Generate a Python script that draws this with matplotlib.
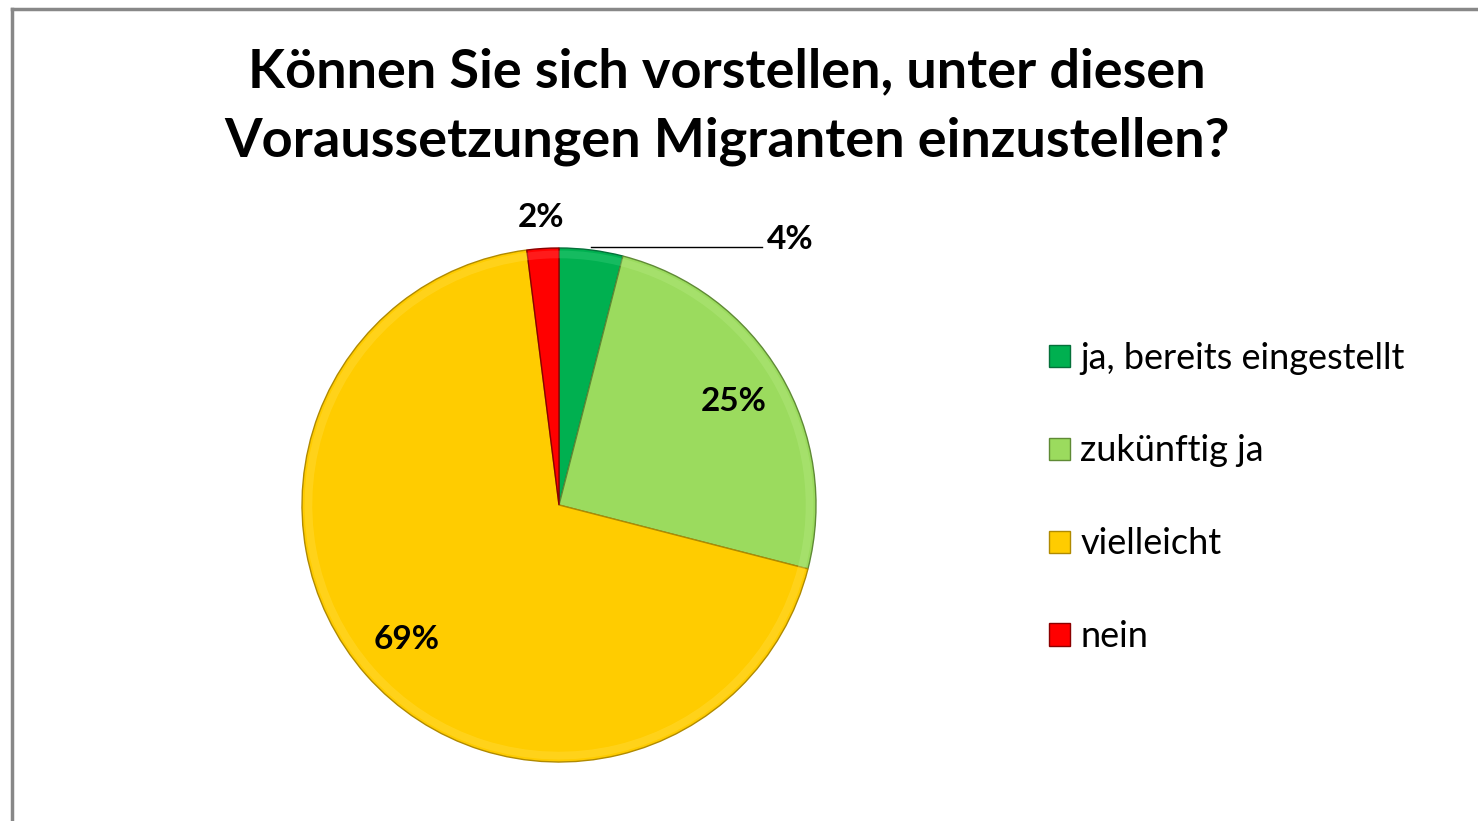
import numpy as np
import matplotlib.pyplot as plt
from matplotlib.patches import Wedge

plt.rcParams['font.family'] = ['Lato', 'DejaVu Sans']

# data
labels = ['ja, bereits eingestellt', 'zukünftig ja', 'vielleicht', 'nein']
values = [4, 25, 69, 2]
colors = ['#00B050', '#9BDB5E', '#FFCC00', '#FF0000']
edges = ['#05703a', '#5f8a35', '#b08a00', '#8a0000']
rims = ['#3fd07f', '#b8ec85', '#ffe04d', '#ff5050']
title = 'Können Sie sich vorstellen, unter diesen\nVoraussetzungen Migranten einzustellen?'

W, H = 1478, 821
fig = plt.figure(figsize=(W / 100, H / 100), dpi=100)
fig.patch.set_facecolor('white')

# pie centre and radius in pixels
cx, cy, r = 559, 505, 257
ax = fig.add_axes([(cx - r) / W, (H - cy - r) / H, 2 * r / W, 2 * r / H])

wedges, texts, autotexts = ax.pie(
    values, colors=colors, startangle=90, counterclock=False,
    autopct='%d%%', pctdistance=0.79,
    wedgeprops=dict(linewidth=1.0),
    textprops=dict(fontsize=24, fontweight='bold', color='black'))
for w, ec, rc in zip(wedges, edges, rims):
    w.set_edgecolor(ec)
    # soft bevel highlight near the rim
    ax.add_patch(Wedge((0, 0), 0.99, w.theta1, w.theta2, width=0.03,
                       facecolor=rc, edgecolor='none', alpha=0.35, zorder=w.get_zorder()))
ax.set_xlim(-1, 1)
ax.set_ylim(-1, 1)
ax.axis('off')
for t in autotexts:
    t.set_zorder(5)

# small slices: labels outside
ang = lambda w: np.deg2rad((w.theta1 + w.theta2) / 2)
t_nein = ang(wedges[3])
autotexts[3].set_position((1.12 * np.cos(t_nein), 1.12 * np.sin(t_nein)))
t_ja = ang(wedges[0])
x0, y0 = np.cos(t_ja), np.sin(t_ja)
autotexts[0].set_position((0.81, y0 + 0.04))
autotexts[0].set_ha('left')
ax.plot([x0, 0.79], [y0 + 0.01, y0 + 0.01], color='black', lw=1, clip_on=False)

fig.text(727 / W, 1 - 107 / H, title, ha='center', va='center',
         fontsize=39, fontweight='bold', linespacing=1.5)

fig.legend(wedges, labels, loc='upper left', bbox_to_anchor=(1017 / W, 1 - 309 / H),
           frameon=False, fontsize=26, handlelength=0.57, handleheight=0.57,
           handletextpad=0.28, labelspacing=1.66)

# chart frame
fig.add_artist(plt.Line2D([12 / W, 12 / W], [0, 1 - 9 / H], color='#888888', lw=2.5))
fig.add_artist(plt.Line2D([12 / W, 1], [1 - 9 / H, 1 - 9 / H], color='#888888', lw=2.5))

fig.savefig('out.png', dpi=100)
